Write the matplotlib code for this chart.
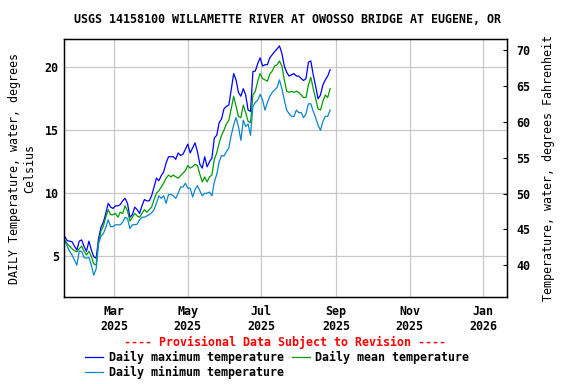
import matplotlib
matplotlib.use("Agg")
import matplotlib.pyplot as plt
import matplotlib.dates as mdates
import pandas as pd

plt.rcParams['font.family'] = 'DejaVu Sans Mono'
plt.rcParams['font.weight'] = 'bold'
plt.rcParams['font.size'] = 8.4

title = "USGS 14158100 WILLAMETTE RIVER AT OWOSSO BRIDGE AT EUGENE, OR"

# daily values read every second day, starting 2025-01-19
dates = pd.date_range("2025-01-19", periods=111, freq="2D")

max_c = [6.56, 6.24, 6.2, 6.16, 5.8, 5.5, 6.2, 6.3, 5.77, 5.4,
         6.2, 5.5, 4.97, 4.84, 6.4, 7.3, 7.7, 8.4, 9.2, 8.9,
         8.8, 9.0, 9.0, 9.1, 9.4, 9.6, 9.2, 8.1, 8.3, 8.9,
         8.7, 8.4, 9.0, 9.5, 9.4, 9.4, 9.8, 10.5, 11.2, 11.0,
         11.4, 11.7, 12.4, 12.9, 12.9, 12.9, 12.7, 13.2, 13.0, 13.1,
         13.5, 13.9, 13.2, 13.6, 14.0, 13.3, 12.3, 12.0, 12.9, 12.1,
         12.5, 12.8, 14.4, 14.6, 15.6, 15.9, 16.7, 16.9, 17.0, 18.2,
         19.5, 19.0, 18.0, 17.7, 18.3, 17.8, 16.6, 16.5, 19.66, 19.7,
         20.3, 20.75, 20.1, 20.2, 20.2, 20.75, 21.0, 21.25, 21.45, 21.7,
         21.1, 20.1, 19.6, 19.3, 19.4, 19.5, 19.3, 19.3, 19.1, 18.95,
         19.1, 20.4, 20.5, 19.4, 18.5, 17.5, 17.8, 18.6, 19.0, 19.3,
         19.8]

mean_c = [6.3, 6.0, 5.8, 5.6, 5.45, 5.35, 5.6, 5.8, 5.4, 5.1,
          5.4, 5.0, 4.4, 4.3, 6.1, 7.0, 7.4, 8.1, 8.7, 8.3,
          8.3, 8.4, 8.1, 8.5, 8.4, 9.0, 8.6, 7.8, 8.1, 8.4,
          8.2, 8.1, 8.4, 8.7, 8.5, 8.7, 8.9, 9.5, 10.0, 10.2,
          10.5, 10.8, 11.2, 11.45, 11.3, 11.45, 11.3, 11.2, 11.4, 11.6,
          11.8, 12.2, 12.0, 12.1, 12.3, 12.2, 11.5, 10.9, 11.3, 10.9,
          11.3, 11.45, 12.7, 13.2, 14.0, 14.6, 15.0, 15.5, 15.8, 16.7,
          17.7, 16.9, 16.1, 16.0, 17.0, 16.4, 15.7, 15.6, 17.8, 18.1,
          18.9, 19.5, 19.1, 19.0, 18.9, 19.45, 19.7, 20.1, 20.2, 20.5,
          20.1, 19.0, 18.1, 18.0, 18.1, 18.0, 18.1, 18.0, 17.8, 17.6,
          17.6, 18.6, 19.2, 18.3, 17.5, 16.7, 16.6, 17.3, 17.8, 17.6,
          18.3]

min_c = [6.24, 5.8, 5.4, 5.1, 4.7, 4.3, 5.4, 5.4, 4.9, 4.85,
         4.9, 4.3, 3.5, 4.0, 6.0, 6.6, 6.8, 7.3, 7.9, 7.35,
         7.35, 7.5, 7.5, 7.5, 7.7, 8.1, 8.0, 7.2, 7.5, 7.5,
         7.55, 7.9, 8.1, 8.1, 8.2, 8.3, 8.45, 8.7, 9.2, 9.8,
         9.6, 9.8, 9.2, 9.9, 9.9, 9.8, 9.6, 10.0, 10.5, 10.5,
         10.8, 10.4, 10.4, 9.7, 10.3, 10.6, 10.2, 9.8, 10.0, 10.0,
         10.1, 9.8, 10.9, 11.5, 12.5, 13.0, 12.95, 13.3, 13.6, 14.6,
         15.4, 16.0, 15.3, 14.2, 15.8, 15.3, 15.5, 14.6, 16.9, 17.2,
         17.4, 17.85, 17.4, 16.6, 17.2, 17.7, 18.0, 18.2, 18.4, 19.0,
         18.3, 17.4, 16.6, 16.3, 16.1, 16.1, 16.6, 16.4, 16.4, 16.0,
         16.3, 17.1, 17.1, 16.5, 16.0, 15.4, 15.0, 15.7, 16.1, 16.1,
         16.6]

left_ticks = [5, 10, 15, 20]
right_ticks = [40, 45, 50, 55, 60, 65, 70]
x_ticks = ["2025-03-01", "2025-05-01", "2025-07-01", "2025-09-01",
           "2025-11-01", "2026-01-01"]

fig = plt.figure(figsize=(5.76, 3.84), dpi=100)
ax = fig.add_axes([0.1116, 0.2266, 0.7681, 0.6711])

l_max, = ax.plot(dates, max_c, color='#0000FF', lw=0.9)
l_mean, = ax.plot(dates, mean_c, color='#009E00', lw=0.9)
l_min, = ax.plot(dates, min_c, color='#0A86CE', lw=0.9)

ax.set_xlim(pd.Timestamp("2025-01-18 14:00"), pd.Timestamp("2026-01-20 10:00"))
ax.set_ylim(1.77, 22.22)
ax.set_yticks(left_ticks)
ax.set_xticks(pd.to_datetime(x_ticks))
ax.xaxis.set_major_formatter(mdates.DateFormatter('%b\n%Y'))
ax.grid(True, color='#C8C8C8', lw=0.9)
ax.tick_params(length=0, pad=4)
ax.tick_params(axis='x', pad=6)
for s in ax.spines.values():
    s.set_linewidth(1.0)
ax.set_ylabel("DAILY Temperature, water, degrees\nCelsius", labelpad=6)

ax2 = ax.twinx()
ax2.set_ylim(35.58, 71.53)
ax2.set_yticks(right_ticks)
ax2.tick_params(direction='in', length=3, pad=7)
ax2.set_ylabel("Temperature, water, degrees Fahrenheit", labelpad=8)

fig.text(0.5, 0.948, title, ha='center', va='center')
fig.text(0.4955, 0.107, "---- Provisional Data Subject to Revision ----",
         color='red', ha='center', va='center')

# column-wise fill: max/min in first column, mean in second
ax.legend([l_max, l_min, l_mean],
          ['Daily maximum temperature', 'Daily minimum temperature',
           'Daily mean temperature'],
          loc='upper left', bbox_to_anchor=(0.037, -0.19), ncol=2,
          frameon=False, handlelength=1.55, handletextpad=0.45,
          columnspacing=0.7, labelspacing=0.2, borderaxespad=0)

fig.savefig("out.png", dpi=100)
